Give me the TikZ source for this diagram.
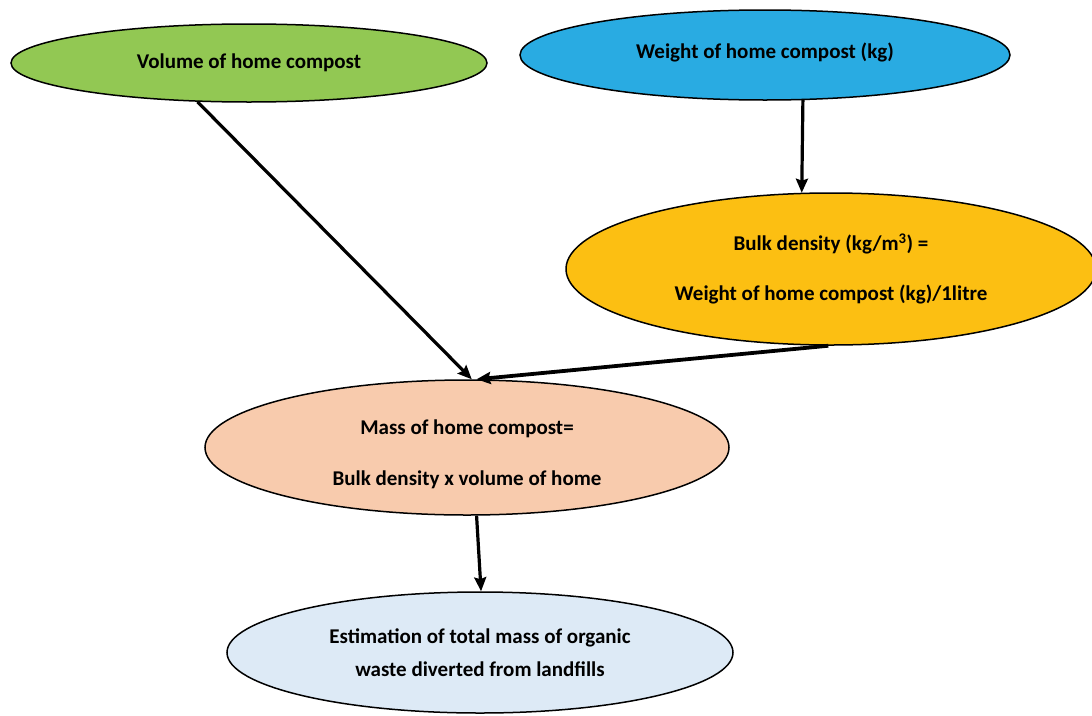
\documentclass[tikz,border=0pt]{standalone}
\usepackage{fontspec}
\setmainfont{Carlito}
\usetikzlibrary{shapes.geometric,arrows.meta}

\definecolor{volgreen}{HTML}{92C853}
\definecolor{wtblue}{HTML}{29ABE2}
\definecolor{bulkgold}{HTML}{FCBF12}
\definecolor{masspeach}{HTML}{F8CBAD}
\definecolor{estblue}{HTML}{DDEAF6}

\tikzset{
  oval/.style={ellipse, draw=black, line width=1.5pt, inner sep=0pt,
    align=center, font=\fontsize{21}{25}\selectfont\bfseries},
  flow/.style={line width=3.2pt, -{Stealth[length=14pt,width=12pt,inset=2pt]}},
}
% shift a label without changing the box the ellipse is fitted round
\newcommand\nudge[2]{\raisebox{#1}[\height][\depth]{#2}}

\begin{document}
\begin{tikzpicture}[x=1pt,y=-1pt]
  \useasboundingbox[fill=white] (0,0) rectangle (1092,715);

  % inputs
  \node[oval, fill=volgreen, minimum width=476pt, minimum height=78pt]
    (vol) at (249,63) {Volume of home compost};
  \node[oval, fill=wtblue, minimum width=490pt, minimum height=90pt]
    (wt) at (765,55) {\nudge{3pt}{Weight of home compost (kg)}};

  % derived quantities
  \node[oval, fill=bulkgold, minimum width=530pt, minimum height=152pt]
    (bulk) at (831,269) {Bulk density (kg/m\textsuperscript{3}) =\\[25pt]
      Weight of home compost (kg)/1litre};
  \node[oval, fill=masspeach, minimum width=524pt, minimum height=135pt]
    (mass) at (467,447.5) {\nudge{-7pt}{\begin{tabular}{@{}c@{}}
      Mass of home compost=\\[26pt]
      Bulk density x volume of home\end{tabular}}};
  \node[oval, fill=estblue, minimum width=506pt, minimum height=121pt]
    (est) at (480,652.5) {Estimation of total mass of organic\\[8pt]
      waste diverted from landfills};

  % connectors
  \draw[flow] (vol.-143) -- (mass.86);
  \draw[flow] (wt.-50) -- (bulk.111.5);
  \draw[flow, line width=3.8pt] (bulk.-92) -- (mass.82);
  \draw[flow] (mass.-82) -- (est.89);
\end{tikzpicture}
\end{document}
